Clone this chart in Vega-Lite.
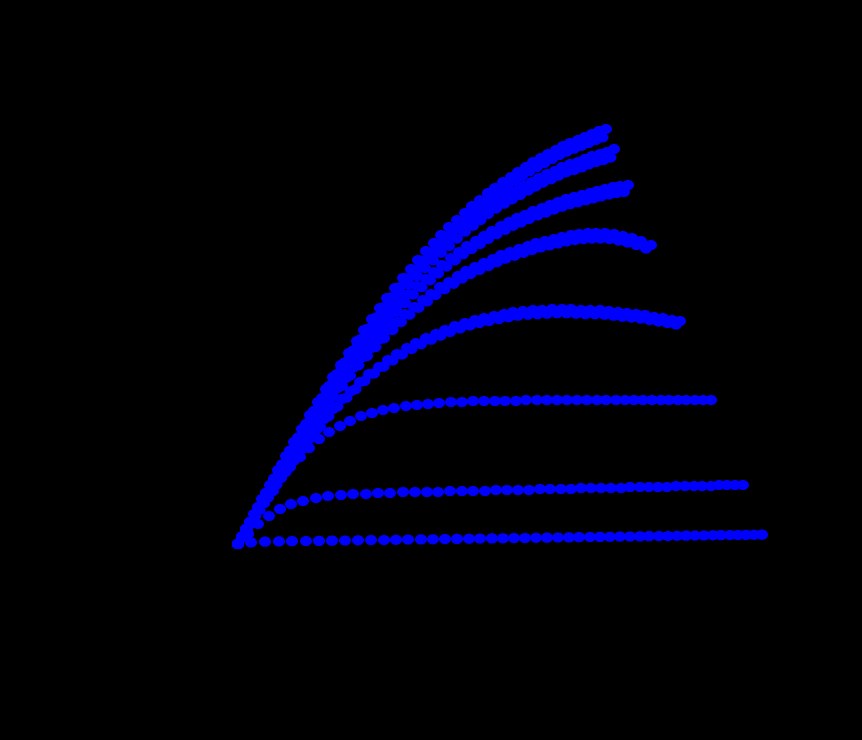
{
  "$schema": "https://vega.github.io/schema/vega-lite/v6.json",
  "description": "Drain current vs drain voltage, eight gate voltages (upper ones swept twice), blue dots on black.",
  "width": 862,
  "height": 740,
  "autosize": {"type": "fit", "contains": "padding"},
  "padding": 0,
  "background": "black",
  "config": {"view": {"stroke": null}},
  "data": {
    "values": [
      {"c":1,"vds":0,"id":0},{"c":1,"vds":0.13,"id":0.016},{"c":1,"vds":0.27,"id":0.023},{"c":1,"vds":0.41,"id":0.026},{"c":1,"vds":0.54,"id":0.028},{"c":1,"vds":0.68,"id":0.030},{"c":1,"vds":0.81,"id":0.031},{"c":1,"vds":0.94,"id":0.033},{"c":1,"vds":1.07,"id":0.035},{"c":1,"vds":1.20,"id":0.037},{"c":1,"vds":1.33,"id":0.039},{"c":1,"vds":1.46,"id":0.040},{"c":1,"vds":1.58,"id":0.042},{"c":1,"vds":1.70,"id":0.044},{"c":1,"vds":1.83,"id":0.046},{"c":1,"vds":1.95,"id":0.047},{"c":1,"vds":2.07,"id":0.049},{"c":1,"vds":2.19,"id":0.051},{"c":1,"vds":2.31,"id":0.052},{"c":1,"vds":2.42,"id":0.054},{"c":1,"vds":2.54,"id":0.056},{"c":1,"vds":2.65,"id":0.057},{"c":1,"vds":2.76,"id":0.059},{"c":1,"vds":2.87,"id":0.060},{"c":1,"vds":2.98,"id":0.062},{"c":1,"vds":3.09,"id":0.063},{"c":1,"vds":3.20,"id":0.065},{"c":1,"vds":3.31,"id":0.066},{"c":1,"vds":3.41,"id":0.068},{"c":1,"vds":3.52,"id":0.069},{"c":1,"vds":3.62,"id":0.071},{"c":1,"vds":3.72,"id":0.072},{"c":1,"vds":3.82,"id":0.074},{"c":1,"vds":3.92,"id":0.075},{"c":1,"vds":4.02,"id":0.076},{"c":1,"vds":4.11,"id":0.078},{"c":1,"vds":4.21,"id":0.079},{"c":1,"vds":4.30,"id":0.080},{"c":1,"vds":4.39,"id":0.082},{"c":1,"vds":4.48,"id":0.083},{"c":1,"vds":4.57,"id":0.084},{"c":1,"vds":4.66,"id":0.085},{"c":1,"vds":4.75,"id":0.087},{"c":1,"vds":4.83,"id":0.088},{"c":1,"vds":4.92,"id":0.089},{"c":1,"vds":5.00,"id":0.090},{"c":1,"vds":5.08,"id":0.091},{"c":1,"vds":5.16,"id":0.092},{"c":1,"vds":5.24,"id":0.093},

      {"c":2,"vds":0,"id":0},{"c":2,"vds":0.10,"id":0.10},{"c":2,"vds":0.20,"id":0.20},{"c":2,"vds":0.31,"id":0.28},{"c":2,"vds":0.42,"id":0.35},{"c":2,"vds":0.53,"id":0.40},{"c":2,"vds":0.65,"id":0.43},{"c":2,"vds":0.78,"id":0.46},{"c":2,"vds":0.90,"id":0.48},{"c":2,"vds":1.03,"id":0.49},{"c":2,"vds":1.15,"id":0.50},{"c":2,"vds":1.28,"id":0.50},{"c":2,"vds":1.40,"id":0.51},{"c":2,"vds":1.52,"id":0.51},{"c":2,"vds":1.65,"id":0.52},{"c":2,"vds":1.77,"id":0.52},{"c":2,"vds":1.89,"id":0.52},{"c":2,"vds":2.00,"id":0.52},{"c":2,"vds":2.12,"id":0.53},{"c":2,"vds":2.24,"id":0.53},{"c":2,"vds":2.35,"id":0.53},{"c":2,"vds":2.47,"id":0.53},{"c":2,"vds":2.58,"id":0.54},{"c":2,"vds":2.69,"id":0.54},{"c":2,"vds":2.80,"id":0.54},{"c":2,"vds":2.91,"id":0.54},{"c":2,"vds":3.02,"id":0.55},{"c":2,"vds":3.12,"id":0.55},{"c":2,"vds":3.23,"id":0.55},{"c":2,"vds":3.33,"id":0.55},{"c":2,"vds":3.43,"id":0.56},{"c":2,"vds":3.53,"id":0.56},{"c":2,"vds":3.63,"id":0.56},{"c":2,"vds":3.73,"id":0.56},{"c":2,"vds":3.83,"id":0.56},{"c":2,"vds":3.92,"id":0.57},{"c":2,"vds":4.02,"id":0.57},{"c":2,"vds":4.11,"id":0.57},{"c":2,"vds":4.20,"id":0.57},{"c":2,"vds":4.29,"id":0.57},{"c":2,"vds":4.38,"id":0.58},{"c":2,"vds":4.47,"id":0.58},{"c":2,"vds":4.56,"id":0.58},{"c":2,"vds":4.64,"id":0.58},{"c":2,"vds":4.73,"id":0.58},{"c":2,"vds":4.81,"id":0.59},{"c":2,"vds":4.89,"id":0.59},{"c":2,"vds":4.97,"id":0.59},{"c":2,"vds":5.05,"id":0.59},

      {"c":3,"vds":0,"id":0},{"c":3,"vds":0.09,"id":0.14},{"c":3,"vds":0.17,"id":0.28},{"c":3,"vds":0.26,"id":0.41},{"c":3,"vds":0.35,"id":0.53},{"c":3,"vds":0.43,"id":0.66},{"c":3,"vds":0.52,"id":0.77},{"c":3,"vds":0.62,"id":0.87},{"c":3,"vds":0.71,"id":0.96},{"c":3,"vds":0.81,"id":1.05},{"c":3,"vds":0.91,"id":1.12},{"c":3,"vds":1.02,"id":1.18},{"c":3,"vds":1.12,"id":1.23},{"c":3,"vds":1.23,"id":1.28},{"c":3,"vds":1.34,"id":1.31},{"c":3,"vds":1.45,"id":1.34},{"c":3,"vds":1.56,"id":1.36},{"c":3,"vds":1.68,"id":1.38},{"c":3,"vds":1.79,"id":1.39},{"c":3,"vds":1.90,"id":1.40},{"c":3,"vds":2.01,"id":1.41},{"c":3,"vds":2.13,"id":1.42},{"c":3,"vds":2.24,"id":1.42},{"c":3,"vds":2.35,"id":1.43},{"c":3,"vds":2.46,"id":1.43},{"c":3,"vds":2.57,"id":1.43},{"c":3,"vds":2.67,"id":1.43},{"c":3,"vds":2.78,"id":1.43},{"c":3,"vds":2.88,"id":1.44},{"c":3,"vds":2.99,"id":1.44},{"c":3,"vds":3.09,"id":1.44},{"c":3,"vds":3.19,"id":1.44},{"c":3,"vds":3.29,"id":1.44},{"c":3,"vds":3.39,"id":1.44},{"c":3,"vds":3.49,"id":1.44},{"c":3,"vds":3.59,"id":1.44},{"c":3,"vds":3.68,"id":1.44},{"c":3,"vds":3.78,"id":1.44},{"c":3,"vds":3.87,"id":1.44},{"c":3,"vds":3.96,"id":1.44},{"c":3,"vds":4.05,"id":1.44},{"c":3,"vds":4.14,"id":1.44},{"c":3,"vds":4.23,"id":1.44},{"c":3,"vds":4.31,"id":1.44},{"c":3,"vds":4.40,"id":1.44},{"c":3,"vds":4.48,"id":1.44},{"c":3,"vds":4.57,"id":1.44},{"c":3,"vds":4.65,"id":1.44},{"c":3,"vds":4.73,"id":1.44},

      {"c":4,"vds":0,"id":0},{"c":4,"vds":0.09,"id":0.14},{"c":4,"vds":0.17,"id":0.28},{"c":4,"vds":0.26,"id":0.41},{"c":4,"vds":0.34,"id":0.54},{"c":4,"vds":0.43,"id":0.67},{"c":4,"vds":0.52,"id":0.79},{"c":4,"vds":0.60,"id":0.91},{"c":4,"vds":0.69,"id":1.03},{"c":4,"vds":0.78,"id":1.14},{"c":4,"vds":0.86,"id":1.25},{"c":4,"vds":0.95,"id":1.35},{"c":4,"vds":1.04,"id":1.45},{"c":4,"vds":1.13,"id":1.53},{"c":4,"vds":1.22,"id":1.62},{"c":4,"vds":1.31,"id":1.70},{"c":4,"vds":1.41,"id":1.77},{"c":4,"vds":1.50,"id":1.84},{"c":4,"vds":1.59,"id":1.90},{"c":4,"vds":1.69,"id":1.96},{"c":4,"vds":1.78,"id":2.01},{"c":4,"vds":1.88,"id":2.06},{"c":4,"vds":1.98,"id":2.10},{"c":4,"vds":2.07,"id":2.14},{"c":4,"vds":2.17,"id":2.18},{"c":4,"vds":2.27,"id":2.21},{"c":4,"vds":2.37,"id":2.24},{"c":4,"vds":2.46,"id":2.26},{"c":4,"vds":2.56,"id":2.28},{"c":4,"vds":2.66,"id":2.30},{"c":4,"vds":2.75,"id":2.32},{"c":4,"vds":2.85,"id":2.33},{"c":4,"vds":2.95,"id":2.34},{"c":4,"vds":3.04,"id":2.34},{"c":4,"vds":3.14,"id":2.35},{"c":4,"vds":3.24,"id":2.35},{"c":4,"vds":3.33,"id":2.35},{"c":4,"vds":3.43,"id":2.34},{"c":4,"vds":3.52,"id":2.34},{"c":4,"vds":3.62,"id":2.34},{"c":4,"vds":3.71,"id":2.33},{"c":4,"vds":3.80,"id":2.32},{"c":4,"vds":3.89,"id":2.31},{"c":4,"vds":3.98,"id":2.30},{"c":4,"vds":4.07,"id":2.29},{"c":4,"vds":4.16,"id":2.27},{"c":4,"vds":4.25,"id":2.26},{"c":4,"vds":4.34,"id":2.24},{"c":4,"vds":4.42,"id":2.23},
      {"c":4,"vds":0.045,"id":0.069},{"c":4,"vds":0.13,"id":0.206},{"c":4,"vds":0.215,"id":0.339},{"c":4,"vds":0.30,"id":0.466},{"c":4,"vds":0.385,"id":0.594},{"c":4,"vds":0.475,"id":0.717},{"c":4,"vds":0.56,"id":0.835},{"c":4,"vds":0.645,"id":0.953},{"c":4,"vds":0.735,"id":1.065},{"c":4,"vds":0.82,"id":1.173},{"c":4,"vds":0.905,"id":1.277},{"c":4,"vds":0.995,"id":1.375},{"c":4,"vds":1.085,"id":1.463},{"c":4,"vds":1.175,"id":1.547},{"c":4,"vds":1.265,"id":1.630},{"c":4,"vds":1.36,"id":1.704},{"c":4,"vds":1.455,"id":1.773},{"c":4,"vds":1.545,"id":1.836},{"c":4,"vds":1.64,"id":1.895},{"c":4,"vds":1.735,"id":1.949},{"c":4,"vds":1.83,"id":1.998},{"c":4,"vds":1.93,"id":2.043},{"c":4,"vds":2.025,"id":2.082},{"c":4,"vds":2.12,"id":2.121},{"c":4,"vds":2.22,"id":2.155},{"c":4,"vds":2.32,"id":2.185},{"c":4,"vds":2.415,"id":2.210},{"c":4,"vds":2.51,"id":2.229},{"c":4,"vds":2.61,"id":2.249},{"c":4,"vds":2.705,"id":2.268},{"c":4,"vds":2.80,"id":2.283},{"c":4,"vds":2.90,"id":2.293},{"c":4,"vds":2.995,"id":2.298},{"c":4,"vds":3.09,"id":2.303},{"c":4,"vds":3.19,"id":2.308},{"c":4,"vds":3.285,"id":2.308},{"c":4,"vds":3.38,"id":2.303},{"c":4,"vds":3.475,"id":2.298},{"c":4,"vds":3.57,"id":2.298},{"c":4,"vds":3.665,"id":2.293},{"c":4,"vds":3.755,"id":2.283},{"c":4,"vds":3.845,"id":2.273},{"c":4,"vds":3.935,"id":2.264},{"c":4,"vds":4.025,"id":2.254},{"c":4,"vds":4.115,"id":2.239},{"c":4,"vds":4.205,"id":2.224},{"c":4,"vds":4.295,"id":2.210},{"c":4,"vds":4.38,"id":2.195},

      {"c":5,"vds":0,"id":0},{"c":5,"vds":0.09,"id":0.14},{"c":5,"vds":0.17,"id":0.29},{"c":5,"vds":0.25,"id":0.43},{"c":5,"vds":0.34,"id":0.56},{"c":5,"vds":0.42,"id":0.70},{"c":5,"vds":0.50,"id":0.83},{"c":5,"vds":0.58,"id":0.96},{"c":5,"vds":0.67,"id":1.09},{"c":5,"vds":0.75,"id":1.21},{"c":5,"vds":0.83,"id":1.33},{"c":5,"vds":0.91,"id":1.44},{"c":5,"vds":1.00,"id":1.56},{"c":5,"vds":1.08,"id":1.66},{"c":5,"vds":1.16,"id":1.77},{"c":5,"vds":1.25,"id":1.87},{"c":5,"vds":1.33,"id":1.96},{"c":5,"vds":1.42,"id":2.05},{"c":5,"vds":1.50,"id":2.14},{"c":5,"vds":1.59,"id":2.22},{"c":5,"vds":1.67,"id":2.30},{"c":5,"vds":1.76,"id":2.37},{"c":5,"vds":1.85,"id":2.44},{"c":5,"vds":1.93,"id":2.50},{"c":5,"vds":2.02,"id":2.57},{"c":5,"vds":2.11,"id":2.62},{"c":5,"vds":2.20,"id":2.68},{"c":5,"vds":2.28,"id":2.73},{"c":5,"vds":2.37,"id":2.77},{"c":5,"vds":2.46,"id":2.81},{"c":5,"vds":2.55,"id":2.85},{"c":5,"vds":2.63,"id":2.89},{"c":5,"vds":2.72,"id":2.92},{"c":5,"vds":2.81,"id":2.95},{"c":5,"vds":2.90,"id":2.98},{"c":5,"vds":2.98,"id":3.01},{"c":5,"vds":3.07,"id":3.03},{"c":5,"vds":3.16,"id":3.05},{"c":5,"vds":3.24,"id":3.07},{"c":5,"vds":3.33,"id":3.09},{"c":5,"vds":3.41,"id":3.10},{"c":5,"vds":3.50,"id":3.11},{"c":5,"vds":3.58,"id":3.11},{"c":5,"vds":3.67,"id":3.11},{"c":5,"vds":3.76,"id":3.10},{"c":5,"vds":3.85,"id":3.08},{"c":5,"vds":3.94,"id":3.06},{"c":5,"vds":4.03,"id":3.03},{"c":5,"vds":4.13,"id":2.99},
      {"c":5,"vds":0.045,"id":0.069},{"c":5,"vds":0.13,"id":0.211},{"c":5,"vds":0.21,"id":0.354},{"c":5,"vds":0.295,"id":0.486},{"c":5,"vds":0.38,"id":0.619},{"c":5,"vds":0.46,"id":0.751},{"c":5,"vds":0.54,"id":0.879},{"c":5,"vds":0.625,"id":1.007},{"c":5,"vds":0.71,"id":1.129},{"c":5,"vds":0.79,"id":1.247},{"c":5,"vds":0.87,"id":1.360},{"c":5,"vds":0.955,"id":1.473},{"c":5,"vds":1.04,"id":1.581},{"c":5,"vds":1.12,"id":1.684},{"c":5,"vds":1.205,"id":1.787},{"c":5,"vds":1.29,"id":1.881},{"c":5,"vds":1.375,"id":1.969},{"c":5,"vds":1.46,"id":2.057},{"c":5,"vds":1.545,"id":2.141},{"c":5,"vds":1.63,"id":2.219},{"c":5,"vds":1.715,"id":2.293},{"c":5,"vds":1.805,"id":2.362},{"c":5,"vds":1.89,"id":2.426},{"c":5,"vds":1.975,"id":2.489},{"c":5,"vds":2.065,"id":2.548},{"c":5,"vds":2.155,"id":2.602},{"c":5,"vds":2.24,"id":2.656},{"c":5,"vds":2.325,"id":2.701},{"c":5,"vds":2.415,"id":2.740},{"c":5,"vds":2.505,"id":2.779},{"c":5,"vds":2.59,"id":2.818},{"c":5,"vds":2.675,"id":2.853},{"c":5,"vds":2.765,"id":2.882},{"c":5,"vds":2.855,"id":2.912},{"c":5,"vds":2.94,"id":2.941},{"c":5,"vds":3.025,"id":2.966},{"c":5,"vds":3.115,"id":2.985},{"c":5,"vds":3.20,"id":3.005},{"c":5,"vds":3.285,"id":3.025},{"c":5,"vds":3.37,"id":3.039},{"c":5,"vds":3.455,"id":3.049},{"c":5,"vds":3.54,"id":3.054},{"c":5,"vds":3.625,"id":3.054},{"c":5,"vds":3.715,"id":3.049},{"c":5,"vds":3.805,"id":3.034},{"c":5,"vds":3.895,"id":3.015},{"c":5,"vds":3.985,"id":2.990},{"c":5,"vds":4.08,"id":2.956},

      {"c":6,"vds":0,"id":0},{"c":6,"vds":0.08,"id":0.15},{"c":6,"vds":0.17,"id":0.29},{"c":6,"vds":0.25,"id":0.43},{"c":6,"vds":0.33,"id":0.57},{"c":6,"vds":0.41,"id":0.71},{"c":6,"vds":0.49,"id":0.85},{"c":6,"vds":0.58,"id":0.98},{"c":6,"vds":0.66,"id":1.11},{"c":6,"vds":0.74,"id":1.24},{"c":6,"vds":0.82,"id":1.36},{"c":6,"vds":0.90,"id":1.49},{"c":6,"vds":0.98,"id":1.60},{"c":6,"vds":1.06,"id":1.72},{"c":6,"vds":1.14,"id":1.83},{"c":6,"vds":1.22,"id":1.94},{"c":6,"vds":1.30,"id":2.04},{"c":6,"vds":1.38,"id":2.14},{"c":6,"vds":1.47,"id":2.23},{"c":6,"vds":1.55,"id":2.32},{"c":6,"vds":1.63,"id":2.41},{"c":6,"vds":1.71,"id":2.50},{"c":6,"vds":1.79,"id":2.58},{"c":6,"vds":1.88,"id":2.65},{"c":6,"vds":1.96,"id":2.72},{"c":6,"vds":2.04,"id":2.79},{"c":6,"vds":2.13,"id":2.86},{"c":6,"vds":2.21,"id":2.92},{"c":6,"vds":2.29,"id":2.98},{"c":6,"vds":2.38,"id":3.03},{"c":6,"vds":2.46,"id":3.08},{"c":6,"vds":2.54,"id":3.13},{"c":6,"vds":2.63,"id":3.18},{"c":6,"vds":2.71,"id":3.22},{"c":6,"vds":2.79,"id":3.26},{"c":6,"vds":2.87,"id":3.29},{"c":6,"vds":2.95,"id":3.33},{"c":6,"vds":3.04,"id":3.36},{"c":6,"vds":3.12,"id":3.39},{"c":6,"vds":3.20,"id":3.42},{"c":6,"vds":3.28,"id":3.45},{"c":6,"vds":3.36,"id":3.47},{"c":6,"vds":3.44,"id":3.49},{"c":6,"vds":3.52,"id":3.51},{"c":6,"vds":3.59,"id":3.53},{"c":6,"vds":3.67,"id":3.55},{"c":6,"vds":3.75,"id":3.57},{"c":6,"vds":3.82,"id":3.58},{"c":6,"vds":3.90,"id":3.59},
      {"c":6,"vds":0.04,"id":0.074},{"c":6,"vds":0.125,"id":0.216},{"c":6,"vds":0.21,"id":0.354},{"c":6,"vds":0.29,"id":0.491},{"c":6,"vds":0.37,"id":0.628},{"c":6,"vds":0.45,"id":0.766},{"c":6,"vds":0.535,"id":0.899},{"c":6,"vds":0.62,"id":1.026},{"c":6,"vds":0.70,"id":1.154},{"c":6,"vds":0.78,"id":1.277},{"c":6,"vds":0.86,"id":1.399},{"c":6,"vds":0.94,"id":1.517},{"c":6,"vds":1.02,"id":1.630},{"c":6,"vds":1.10,"id":1.743},{"c":6,"vds":1.18,"id":1.851},{"c":6,"vds":1.26,"id":1.954},{"c":6,"vds":1.34,"id":2.052},{"c":6,"vds":1.425,"id":2.146},{"c":6,"vds":1.51,"id":2.234},{"c":6,"vds":1.59,"id":2.322},{"c":6,"vds":1.67,"id":2.411},{"c":6,"vds":1.75,"id":2.494},{"c":6,"vds":1.835,"id":2.568},{"c":6,"vds":1.92,"id":2.637},{"c":6,"vds":2.00,"id":2.705},{"c":6,"vds":2.085,"id":2.774},{"c":6,"vds":2.17,"id":2.838},{"c":6,"vds":2.25,"id":2.897},{"c":6,"vds":2.335,"id":2.951},{"c":6,"vds":2.42,"id":3.000},{"c":6,"vds":2.50,"id":3.049},{"c":6,"vds":2.585,"id":3.098},{"c":6,"vds":2.67,"id":3.142},{"c":6,"vds":2.75,"id":3.182},{"c":6,"vds":2.83,"id":3.216},{"c":6,"vds":2.91,"id":3.250},{"c":6,"vds":2.995,"id":3.285},{"c":6,"vds":3.08,"id":3.314},{"c":6,"vds":3.16,"id":3.344},{"c":6,"vds":3.24,"id":3.373},{"c":6,"vds":3.32,"id":3.398},{"c":6,"vds":3.40,"id":3.417},{"c":6,"vds":3.48,"id":3.437},{"c":6,"vds":3.555,"id":3.457},{"c":6,"vds":3.63,"id":3.476},{"c":6,"vds":3.71,"id":3.496},{"c":6,"vds":3.785,"id":3.511},{"c":6,"vds":3.86,"id":3.520},

      {"c":7,"vds":0,"id":0},{"c":7,"vds":0.08,"id":0.15},{"c":7,"vds":0.17,"id":0.30},{"c":7,"vds":0.25,"id":0.44},{"c":7,"vds":0.33,"id":0.58},{"c":7,"vds":0.41,"id":0.73},{"c":7,"vds":0.49,"id":0.87},{"c":7,"vds":0.57,"id":1.00},{"c":7,"vds":0.65,"id":1.13},{"c":7,"vds":0.73,"id":1.27},{"c":7,"vds":0.81,"id":1.40},{"c":7,"vds":0.89,"id":1.52},{"c":7,"vds":0.96,"id":1.64},{"c":7,"vds":1.04,"id":1.76},{"c":7,"vds":1.12,"id":1.88},{"c":7,"vds":1.20,"id":1.99},{"c":7,"vds":1.28,"id":2.10},{"c":7,"vds":1.36,"id":2.21},{"c":7,"vds":1.44,"id":2.31},{"c":7,"vds":1.51,"id":2.41},{"c":7,"vds":1.59,"id":2.50},{"c":7,"vds":1.67,"id":2.60},{"c":7,"vds":1.75,"id":2.69},{"c":7,"vds":1.83,"id":2.77},{"c":7,"vds":1.91,"id":2.85},{"c":7,"vds":1.99,"id":2.93},{"c":7,"vds":2.07,"id":3.00},{"c":7,"vds":2.15,"id":3.07},{"c":7,"vds":2.23,"id":3.15},{"c":7,"vds":2.31,"id":3.21},{"c":7,"vds":2.39,"id":3.27},{"c":7,"vds":2.46,"id":3.33},{"c":7,"vds":2.54,"id":3.39},{"c":7,"vds":2.62,"id":3.44},{"c":7,"vds":2.70,"id":3.49},{"c":7,"vds":2.78,"id":3.53},{"c":7,"vds":2.86,"id":3.58},{"c":7,"vds":2.94,"id":3.62},{"c":7,"vds":3.01,"id":3.66},{"c":7,"vds":3.09,"id":3.70},{"c":7,"vds":3.17,"id":3.73},{"c":7,"vds":3.24,"id":3.77},{"c":7,"vds":3.32,"id":3.80},{"c":7,"vds":3.40,"id":3.82},{"c":7,"vds":3.47,"id":3.85},{"c":7,"vds":3.54,"id":3.88},{"c":7,"vds":3.62,"id":3.90},{"c":7,"vds":3.69,"id":3.92},{"c":7,"vds":3.76,"id":3.95},
      {"c":7,"vds":0.04,"id":0.074},{"c":7,"vds":0.125,"id":0.221},{"c":7,"vds":0.21,"id":0.363},{"c":7,"vds":0.29,"id":0.501},{"c":7,"vds":0.37,"id":0.643},{"c":7,"vds":0.45,"id":0.786},{"c":7,"vds":0.53,"id":0.918},{"c":7,"vds":0.61,"id":1.046},{"c":7,"vds":0.69,"id":1.178},{"c":7,"vds":0.77,"id":1.311},{"c":7,"vds":0.85,"id":1.434},{"c":7,"vds":0.925,"id":1.552},{"c":7,"vds":1.00,"id":1.669},{"c":7,"vds":1.08,"id":1.787},{"c":7,"vds":1.16,"id":1.900},{"c":7,"vds":1.24,"id":2.008},{"c":7,"vds":1.32,"id":2.116},{"c":7,"vds":1.40,"id":2.219},{"c":7,"vds":1.475,"id":2.318},{"c":7,"vds":1.55,"id":2.411},{"c":7,"vds":1.63,"id":2.504},{"c":7,"vds":1.71,"id":2.597},{"c":7,"vds":1.79,"id":2.681},{"c":7,"vds":1.87,"id":2.759},{"c":7,"vds":1.95,"id":2.838},{"c":7,"vds":2.03,"id":2.912},{"c":7,"vds":2.11,"id":2.980},{"c":7,"vds":2.19,"id":3.054},{"c":7,"vds":2.27,"id":3.123},{"c":7,"vds":2.35,"id":3.182},{"c":7,"vds":2.425,"id":3.241},{"c":7,"vds":2.50,"id":3.300},{"c":7,"vds":2.58,"id":3.354},{"c":7,"vds":2.66,"id":3.403},{"c":7,"vds":2.74,"id":3.447},{"c":7,"vds":2.82,"id":3.491},{"c":7,"vds":2.90,"id":3.535},{"c":7,"vds":2.975,"id":3.574},{"c":7,"vds":3.05,"id":3.614},{"c":7,"vds":3.13,"id":3.648},{"c":7,"vds":3.205,"id":3.683},{"c":7,"vds":3.28,"id":3.717},{"c":7,"vds":3.36,"id":3.741},{"c":7,"vds":3.435,"id":3.766},{"c":7,"vds":3.505,"id":3.795},{"c":7,"vds":3.58,"id":3.820},{"c":7,"vds":3.655,"id":3.840},{"c":7,"vds":3.725,"id":3.864},

      {"c":8,"vds":0,"id":0},{"c":8,"vds":0.08,"id":0.15},{"c":8,"vds":0.16,"id":0.30},{"c":8,"vds":0.24,"id":0.45},{"c":8,"vds":0.32,"id":0.59},{"c":8,"vds":0.40,"id":0.74},{"c":8,"vds":0.48,"id":0.88},{"c":8,"vds":0.56,"id":1.02},{"c":8,"vds":0.64,"id":1.15},{"c":8,"vds":0.72,"id":1.29},{"c":8,"vds":0.80,"id":1.42},{"c":8,"vds":0.88,"id":1.55},{"c":8,"vds":0.95,"id":1.67},{"c":8,"vds":1.03,"id":1.79},{"c":8,"vds":1.11,"id":1.91},{"c":8,"vds":1.19,"id":2.03},{"c":8,"vds":1.26,"id":2.14},{"c":8,"vds":1.34,"id":2.25},{"c":8,"vds":1.42,"id":2.36},{"c":8,"vds":1.49,"id":2.46},{"c":8,"vds":1.57,"id":2.56},{"c":8,"vds":1.65,"id":2.66},{"c":8,"vds":1.73,"id":2.75},{"c":8,"vds":1.80,"id":2.84},{"c":8,"vds":1.88,"id":2.93},{"c":8,"vds":1.96,"id":3.01},{"c":8,"vds":2.03,"id":3.09},{"c":8,"vds":2.11,"id":3.17},{"c":8,"vds":2.19,"id":3.24},{"c":8,"vds":2.27,"id":3.31},{"c":8,"vds":2.34,"id":3.38},{"c":8,"vds":2.42,"id":3.44},{"c":8,"vds":2.50,"id":3.51},{"c":8,"vds":2.57,"id":3.56},{"c":8,"vds":2.65,"id":3.62},{"c":8,"vds":2.73,"id":3.67},{"c":8,"vds":2.80,"id":3.72},{"c":8,"vds":2.88,"id":3.77},{"c":8,"vds":2.95,"id":3.82},{"c":8,"vds":3.03,"id":3.86},{"c":8,"vds":3.10,"id":3.90},{"c":8,"vds":3.18,"id":3.94},{"c":8,"vds":3.25,"id":3.98},{"c":8,"vds":3.32,"id":4.01},{"c":8,"vds":3.40,"id":4.04},{"c":8,"vds":3.47,"id":4.07},{"c":8,"vds":3.54,"id":4.10},{"c":8,"vds":3.61,"id":4.13},{"c":8,"vds":3.68,"id":4.15},
      {"c":8,"vds":0.04,"id":0.074},{"c":8,"vds":0.12,"id":0.221},{"c":8,"vds":0.20,"id":0.368},{"c":8,"vds":0.28,"id":0.511},{"c":8,"vds":0.36,"id":0.653},{"c":8,"vds":0.44,"id":0.795},{"c":8,"vds":0.52,"id":0.933},{"c":8,"vds":0.60,"id":1.065},{"c":8,"vds":0.68,"id":1.198},{"c":8,"vds":0.76,"id":1.331},{"c":8,"vds":0.84,"id":1.458},{"c":8,"vds":0.915,"id":1.581},{"c":8,"vds":0.99,"id":1.699},{"c":8,"vds":1.07,"id":1.817},{"c":8,"vds":1.15,"id":1.935},{"c":8,"vds":1.225,"id":2.047},{"c":8,"vds":1.30,"id":2.155},{"c":8,"vds":1.38,"id":2.264},{"c":8,"vds":1.455,"id":2.367},{"c":8,"vds":1.53,"id":2.465},{"c":8,"vds":1.61,"id":2.563},{"c":8,"vds":1.69,"id":2.656},{"c":8,"vds":1.765,"id":2.745},{"c":8,"vds":1.84,"id":2.833},{"c":8,"vds":1.92,"id":2.917},{"c":8,"vds":1.995,"id":2.995},{"c":8,"vds":2.07,"id":3.074},{"c":8,"vds":2.15,"id":3.147},{"c":8,"vds":2.23,"id":3.216},{"c":8,"vds":2.305,"id":3.285},{"c":8,"vds":2.38,"id":3.349},{"c":8,"vds":2.46,"id":3.412},{"c":8,"vds":2.535,"id":3.471},{"c":8,"vds":2.61,"id":3.525},{"c":8,"vds":2.69,"id":3.579},{"c":8,"vds":2.765,"id":3.628},{"c":8,"vds":2.84,"id":3.678},{"c":8,"vds":2.915,"id":3.727},{"c":8,"vds":2.99,"id":3.771},{"c":8,"vds":3.065,"id":3.810},{"c":8,"vds":3.14,"id":3.849},{"c":8,"vds":3.215,"id":3.889},{"c":8,"vds":3.285,"id":3.923},{"c":8,"vds":3.36,"id":3.953},{"c":8,"vds":3.435,"id":3.982},{"c":8,"vds":3.505,"id":4.011},{"c":8,"vds":3.575,"id":4.041},{"c":8,"vds":3.645,"id":4.065}
    ]
  },
  "mark": {
    "type": "point",
    "filled": true,
    "shape": "M-1,0A1,0.85,0,1,0,1,0A1,0.85,0,1,0,-1,0Z",
    "size": 145,
    "color": "#0000ff",
    "opacity": 1,
    "strokeWidth": 0
  },
  "encoding": {
    "x": {"field": "vds", "type": "quantitative", "scale": {"domain": [-2.38, 6.24], "nice": false, "zero": false}, "axis": null},
    "y": {"field": "id", "type": "quantitative", "scale": {"domain": [-1.96, 5.44], "nice": false, "zero": false}, "axis": null}
  }
}
